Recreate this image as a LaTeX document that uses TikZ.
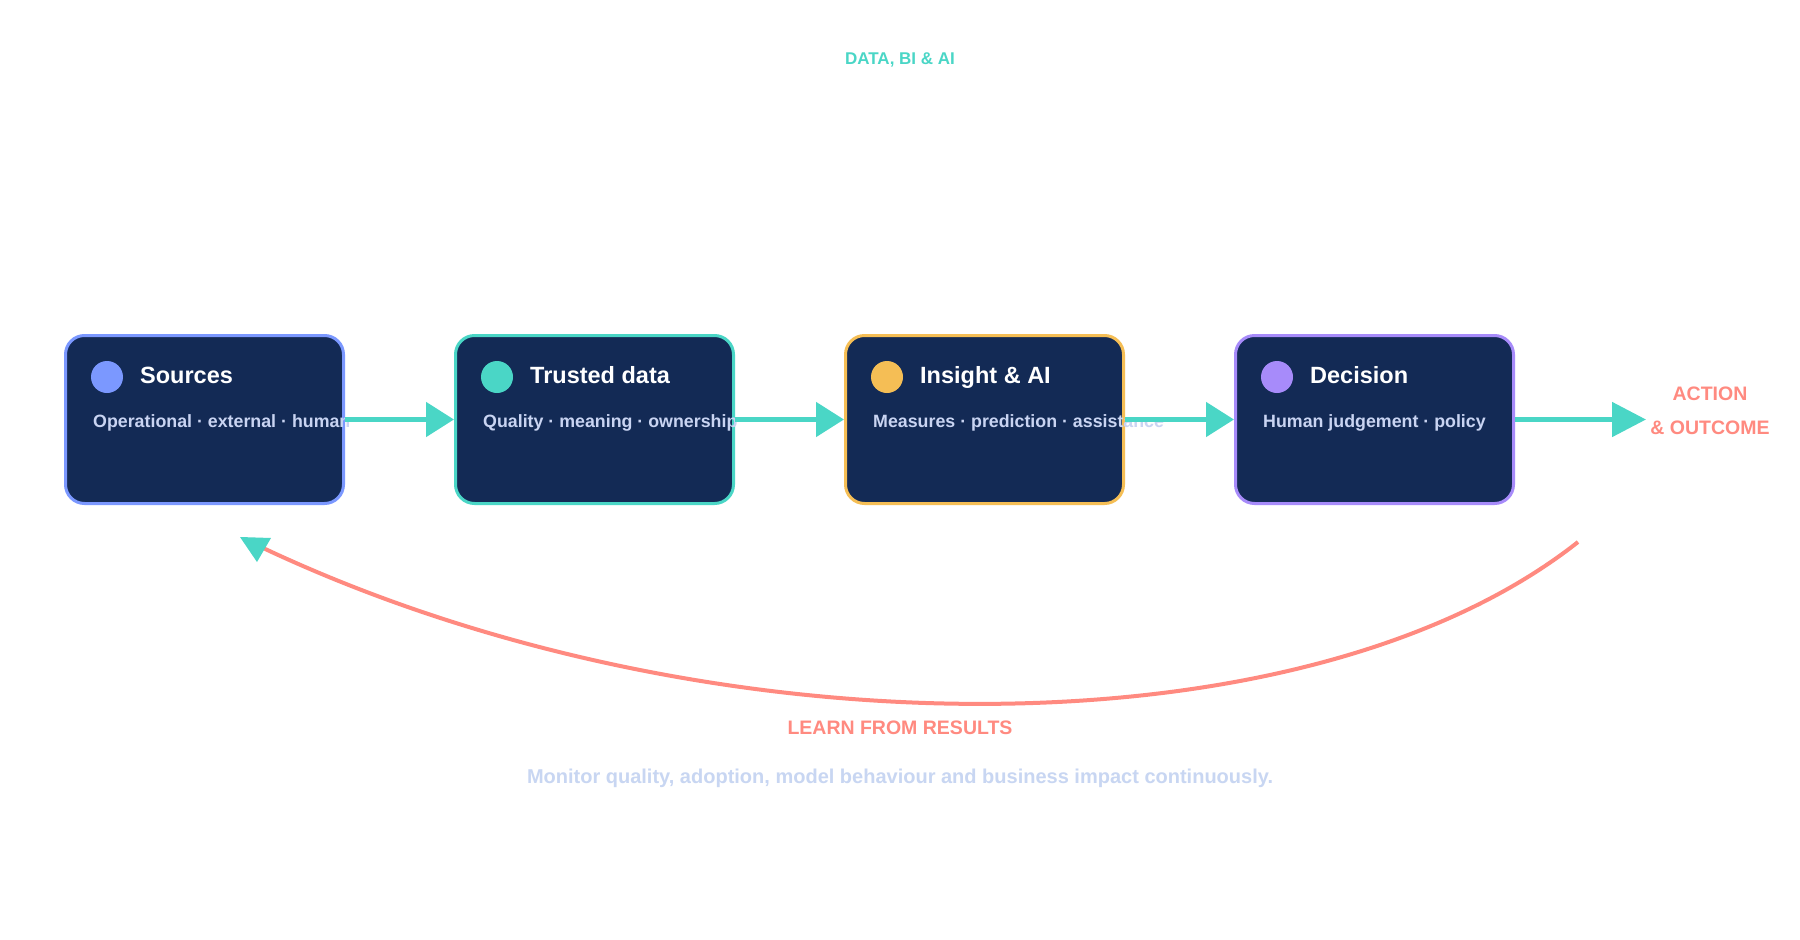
\documentclass[tikz,border=0pt]{standalone}
\usepackage{fontspec}
\setmainfont{Liberation Sans}
\usetikzlibrary{arrows.meta}
\definecolor{navy}{HTML}{132A55}
\definecolor{srcblue}{HTML}{7B98FF}
\definecolor{tealc}{HTML}{4AD6C6}
\definecolor{amber}{HTML}{F5BE55}
\definecolor{lilac}{HTML}{A78BFA}
\definecolor{salmon}{HTML}{FF8A80}
\definecolor{subtxt}{HTML}{C9D4F2}
\definecolor{monitortxt}{HTML}{C8D6F2}
\tikzstyle{stage} = [rectangle, rounded corners=19pt, minimum width=278pt, minimum height=168pt, inner sep=0pt, fill=navy, line width=3pt]
\tikzstyle{dot} = [circle, minimum size=32pt, inner sep=0pt]
\tikzstyle{title} = [anchor=base west, inner sep=0pt, text=white, font=\bfseries\fontsize{23.5}{28}\selectfont]
\tikzstyle{sub} = [anchor=base west, inner sep=0pt, text=subtxt, font=\bfseries\fontsize{17.8}{21}\selectfont]
\tikzstyle{tag} = [anchor=base, inner sep=0pt, font=\bfseries\fontsize{19.5}{23}\selectfont]
\tikzstyle{arrow} = [line width=5pt, draw=tealc, -{Triangle[length=28pt,width=34pt]}]
\tikzstyle{loopback} = [line width=4pt, draw=salmon]
\begin{document}
\begin{tikzpicture}[x=1pt, y=1pt, node distance=390pt]
\fill[white] (0,0) rectangle (1800,-940);
\useasboundingbox (0,0) rectangle (1800,-940);

\node (header) [tag, text=tealc, font=\bfseries\fontsize{17}{20}\selectfont] at (900,-64) {DATA, BI \& AI};

\node (src) [stage, draw=srcblue] at (204.5,-419.5) {};
\node (trust) [stage, draw=tealc, right of=src] {};
\node (insight) [stage, draw=amber, right of=trust] {};
\node (decide) [stage, draw=lilac, right of=insight] {};

\node (srcDot) [dot, fill=srcblue] at ([shift={(43,-43)}]src.north west) {};
\node (srcTitle) [title] at ([shift={(76,-49)}]src.north west) {Sources};
\node (srcSub) [sub] at ([shift={(29,-93)}]src.north west) {Operational · external · human};

\node (trustDot) [dot, fill=tealc] at ([shift={(43,-43)}]trust.north west) {};
\node (trustTitle) [title] at ([shift={(76,-49)}]trust.north west) {Trusted data};
\node (trustSub) [sub] at ([shift={(29,-93)}]trust.north west) {Quality · meaning · ownership};

\node (insightDot) [dot, fill=amber] at ([shift={(43,-43)}]insight.north west) {};
\node (insightTitle) [title] at ([shift={(76,-49)}]insight.north west) {Insight \& AI};
\node (insightSub) [sub] at ([shift={(29,-93)}]insight.north west) {Measures · prediction · assistance};

\node (decideDot) [dot, fill=lilac] at ([shift={(43,-43)}]decide.north west) {};
\node (decideTitle) [title] at ([shift={(76,-49)}]decide.north west) {Decision};
\node (decideSub) [sub] at ([shift={(29,-93)}]decide.north west) {Human judgement · policy};

\node (actTop) [tag, text=salmon] at (1710,-400) {ACTION};
\node (actBot) [tag, text=salmon] at ([yshift=-34]actTop.base) {\& OUTCOME};
\coordinate (actEnd) at (1646,-419.5);

\draw [arrow] (src) -- (trust);
\draw [arrow] (trust) -- (insight);
\draw [arrow] (insight) -- (decide);
\draw [arrow, -{Triangle[length=34pt,width=34pt]}] (decide) -- (actEnd);

% learning loop back to the sources
\coordinate (loopStart) at (1578,-542);
\coordinate (loopEnd) at (261,-547);
\draw [loopback] (loopStart) .. controls (1306,-757) and (705,-757) .. (loopEnd);
\fill [tealc] (loopEnd) ++(-21,10) -- ++(31,-1) -- ++(-14,-24) -- cycle;

\node (learn) [tag, text=salmon] at (900,-734) {LEARN FROM RESULTS};
\node (monitor) [tag, text=monitortxt, font=\bfseries\fontsize{20}{24}\selectfont] at (900,-783) {Monitor quality, adoption, model behaviour and business impact continuously.};
\end{tikzpicture}
\end{document}
